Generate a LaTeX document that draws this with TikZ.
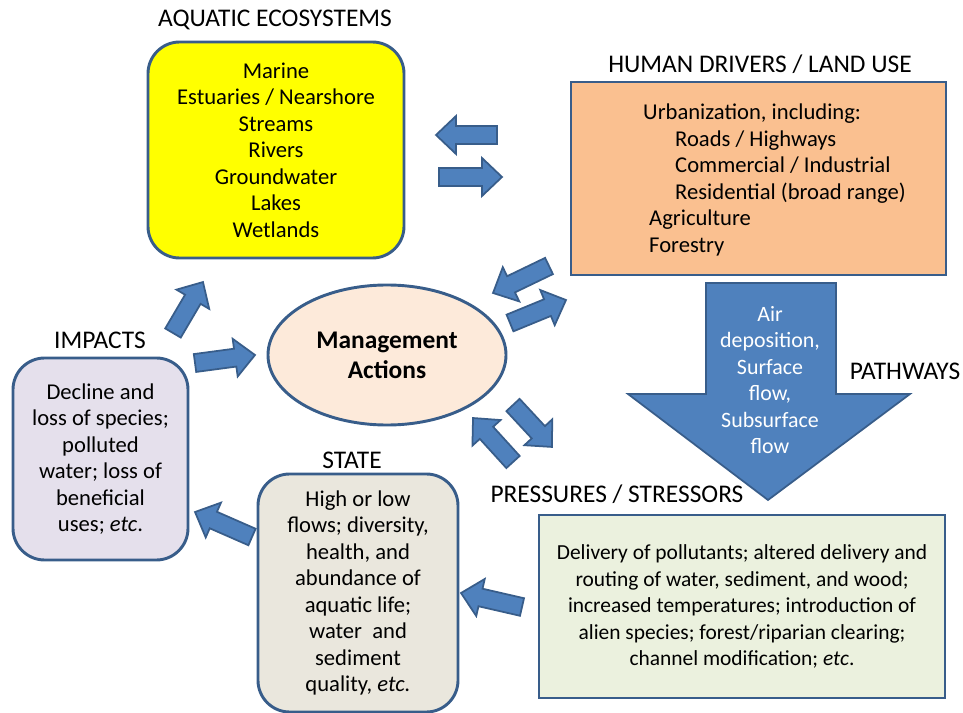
\documentclass[tikz,border=0pt]{standalone}
\usepackage{fontspec}
\setmainfont{Carlito}
\usetikzlibrary{calc,shapes.geometric}

\definecolor{edgeblue}{RGB}{56,93,138}
\definecolor{arrowblue}{RGB}{79,129,189}
\definecolor{aquayellow}{RGB}{255,255,0}
\definecolor{landorange}{RGB}{250,192,144}
\definecolor{actionpeach}{RGB}{253,234,218}
\definecolor{stressgreen}{RGB}{235,241,222}
\definecolor{statebeige}{RGB}{234,231,221}
\definecolor{impactlilac}{RGB}{229,224,236}

\newcommand{\blockarrow}[2]{%
\draw [blockarr] let \p1=($(#2)-(#1)$), \n1={atan2(\y1,\x1)}, \n2={veclen(\x1,\y1)} in
([shift={(#1)},rotate=\n1]0cm,-0.27cm) -- ([shift={(#1)},rotate=\n1]\n2-0.6cm,-0.27cm) --
([shift={(#1)},rotate=\n1]\n2-0.6cm,-0.57cm) -- ([shift={(#1)},rotate=\n1]\n2,0cm) --
([shift={(#1)},rotate=\n1]\n2-0.6cm,0.57cm) -- ([shift={(#1)},rotate=\n1]\n2-0.6cm,0.27cm) --
([shift={(#1)},rotate=\n1]0cm,0.27cm) -- cycle;}

\begin{document}
\begin{tikzpicture}[x=0.03cm,y=-0.03cm]
\tikzstyle{every node}+=[font=\fontsize{19.3}{22.6}\selectfont]
\tikzstyle{box}=[draw=edgeblue, line width=2.5pt, align=center, inner sep=0pt]
\tikzstyle{roundbox}=[box, rounded corners=0.95cm]
\tikzstyle{heading}=[inner sep=0pt, font=\fontsize{21.7}{26}\selectfont]
\tikzstyle{blockarr}=[fill=arrowblue, draw=edgeblue, line width=1.5pt, line join=miter]
\useasboundingbox (0,0) rectangle (963,713);

\node [roundbox, fill=aquayellow, minimum width=7.68cm, minimum height=6.48cm] (aqua) at (276,150)
{Marine\\Estuaries / Nearshore\\Streams\\Rivers\\Groundwater\\Lakes\\Wetlands};
\node [heading] (aquatitle) at (275,20) {AQUATIC ECOSYSTEMS};

\node [box, fill=landorange, minimum width=11.25cm, minimum height=5.79cm] (land) at (758.5,178.5) {};
\node [inner sep=0pt, anchor=west, align=left] (landtxt) at (643,180)
{Urbanization, including:\\
\hspace*{0.96cm}Roads / Highways\\
\hspace*{0.96cm}Commercial / Industrial\\
\hspace*{0.96cm}Residential (broad range)\\
\hspace*{0.18cm}Agriculture\\
\hspace*{0.18cm}Forestry};
\node [heading] (landtitle) at (760,64) {HUMAN DRIVERS / LAND USE};

\draw [blockarr] (706,283) -- (836,283) -- (836,394) -- (910,394) -- (768,500)
 -- (628,394) -- (706,394) -- cycle;
\node [inner sep=0pt, text=white, align=center, font=\fontsize{18.7}{22.6}\selectfont] (pathtxt) at (770,380)
{Air\\deposition,\\Surface\\flow,\\Subsurface\\flow};
\node [heading] (pathtitle) at (905,371) {PATHWAYS};

\node [box, fill=stressgreen, minimum width=12.18cm, minimum height=5.49cm,
 font=\fontsize{18.3}{22.6}\selectfont] (stress) at (742,606.5)
{Delivery of pollutants; altered delivery and\\
routing of water, sediment, and wood;\\
increased temperatures; introduction of\\
alien species; forest/riparian clearing;\\
channel modification; \textit{etc}.};
\node [heading] (stresstitle) at (617,494) {PRESSURES / STRESSORS};

\node [box, ellipse, fill=actionpeach, minimum width=7.14cm, minimum height=4.2cm,
 font=\fontsize{21.7}{25.6}\selectfont\bfseries] (action) at (387,355) {Management\\Actions};

\node [roundbox, fill=statebeige, minimum width=6cm, minimum height=7.14cm] (state) at (358,593)
{High or low\\flows; diversity,\\health, and\\abundance of\\aquatic life;\\water~~and\\sediment\\quality, \textit{etc.}};
\node [heading] (statetitle) at (352,460) {STATE};

\node [roundbox, fill=impactlilac, minimum width=5.25cm, minimum height=6.06cm] (impact) at (100.5,459)
{Decline and\\loss of species;\\polluted\\water; loss of\\beneficial\\uses; \textit{etc}.};
\node [heading] (impacttitle) at (100,340) {IMPACTS};

\coordinate (la1) at (497,135); \coordinate (la2) at (436,135);
\coordinate (ra1) at (439,177); \coordinate (ra2) at (502,177);
\coordinate (ld1) at (549,266); \coordinate (ld2) at (493,293);
\coordinate (ma1) at (510,323); \coordinate (ma2) at (566,300);
\coordinate (md1) at (513,405); \coordinate (md2) at (552,447);
\coordinate (pm1) at (513,462); \coordinate (pm2) at (473,418);
\coordinate (ia1) at (173,333); \coordinate (ia2) at (203,282);
\coordinate (im1) at (195,363); \coordinate (im2) at (255,355);
\coordinate (ps1) at (522,607); \coordinate (ps2) at (461,593);
\coordinate (si1) at (252,537); \coordinate (si2) at (195,512);

\blockarrow{la1}{la2}
\blockarrow{ra1}{ra2}
\blockarrow{ld1}{ld2}
\blockarrow{ma1}{ma2}
\blockarrow{md1}{md2}
\blockarrow{pm1}{pm2}
\blockarrow{ia1}{ia2}
\blockarrow{im1}{im2}
\blockarrow{ps1}{ps2}
\blockarrow{si1}{si2}
\end{tikzpicture}
\end{document}
